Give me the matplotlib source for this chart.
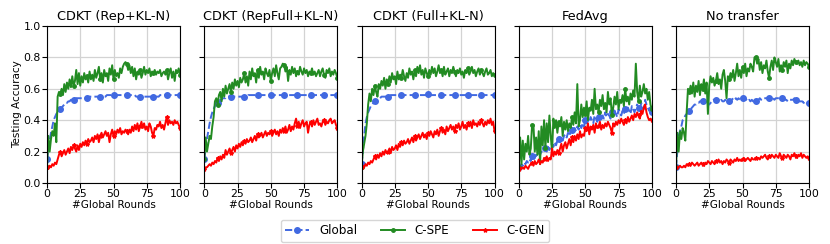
import matplotlib
matplotlib.use("Agg")
import matplotlib.pyplot as plt
import numpy as np

rounds = list(range(101))
titles = ["CDKT (Rep+KL-N)", "CDKT (RepFull+KL-N)", "CDKT (Full+KL-N)", "FedAvg", "No transfer"]
series_names = ["Global", "C-SPE", "C-GEN"]
xticks = [0, 25, 50, 75, 100]
yticks = [0.0, 0.2, 0.4, 0.6, 0.8, 1.0]

# ---- Panel 1: CDKT (Rep+KL-N)
g1 = [0.15,0.22,0.27,0.32,0.36,0.40,0.42,0.44,0.45,0.46,
      0.47,0.48,0.49,0.50,0.51,0.51,0.52,0.52,0.53,0.53,
      0.53,0.53,0.54,0.54,0.54,0.54,0.54,0.54,0.54,0.54,
      0.54,0.54,0.55,0.55,0.55,0.55,0.55,0.55,0.55,0.55,
      0.55,0.55,0.55,0.55,0.55,0.56,0.56,0.56,0.56,0.56,
      0.56,0.56,0.56,0.56,0.56,0.56,0.56,0.56,0.56,0.56,
      0.56,0.56,0.56,0.56,0.56,0.56,0.56,0.55,0.55,0.55,
      0.55,0.55,0.55,0.55,0.55,0.55,0.55,0.55,0.55,0.55,
      0.55,0.55,0.55,0.55,0.55,0.56,0.56,0.56,0.56,0.56,
      0.56,0.56,0.56,0.56,0.56,0.56,0.56,0.56,0.56,0.56,
      0.56]
s1 = [0.10,0.30,0.20,0.28,0.33,0.30,0.38,0.26,0.55,0.58,
      0.57,0.60,0.56,0.63,0.58,0.64,0.60,0.66,0.61,0.68,
      0.62,0.65,0.72,0.63,0.70,0.62,0.68,0.64,0.70,0.66,
      0.68,0.64,0.71,0.66,0.69,0.65,0.72,0.67,0.70,0.74,
      0.66,0.70,0.64,0.72,0.68,0.70,0.65,0.73,0.69,0.75,
      0.66,0.72,0.68,0.70,0.67,0.73,0.70,0.74,0.76,0.77,
      0.76,0.72,0.75,0.70,0.74,0.68,0.73,0.66,0.71,0.69,
      0.72,0.67,0.70,0.74,0.69,0.72,0.70,0.73,0.68,0.71,
      0.70,0.72,0.69,0.71,0.70,0.72,0.68,0.70,0.71,0.69,
      0.72,0.66,0.70,0.73,0.67,0.71,0.65,0.72,0.70,0.73,
      0.69]
r1 = [0.10,0.09,0.11,0.10,0.12,0.11,0.13,0.12,0.15,0.18,
      0.20,0.17,0.19,0.21,0.18,0.20,0.22,0.19,0.23,0.21,
      0.24,0.22,0.20,0.24,0.21,0.25,0.23,0.26,0.24,0.27,
      0.25,0.28,0.26,0.27,0.29,0.26,0.30,0.28,0.31,0.26,
      0.30,0.32,0.29,0.31,0.33,0.30,0.32,0.26,0.31,0.34,
      0.30,0.33,0.31,0.34,0.32,0.35,0.31,0.33,0.32,0.34,
      0.33,0.31,0.34,0.32,0.36,0.33,0.37,0.34,0.38,0.33,
      0.36,0.39,0.35,0.38,0.34,0.36,0.33,0.38,0.36,0.32,
      0.30,0.35,0.34,0.37,0.36,0.39,0.35,0.37,0.34,0.38,
      0.42,0.37,0.40,0.38,0.39,0.37,0.40,0.38,0.39,0.37,
      0.35]

# ---- Panel 2: CDKT (RepFull+KL-N)
g2 = [0.15,0.22,0.28,0.33,0.38,0.42,0.45,0.47,0.49,0.50,
      0.51,0.52,0.53,0.53,0.54,0.54,0.54,0.55,0.55,0.55,
      0.55,0.55,0.55,0.55,0.55,0.55,0.55,0.55,0.55,0.55,
      0.55,0.55,0.55,0.56,0.56,0.56,0.56,0.56,0.56,0.56,
      0.56,0.56,0.56,0.56,0.56,0.56,0.56,0.56,0.56,0.56,
      0.56,0.56,0.56,0.56,0.56,0.56,0.56,0.56,0.56,0.56,
      0.56,0.56,0.56,0.56,0.56,0.56,0.56,0.56,0.56,0.56,
      0.56,0.56,0.56,0.56,0.56,0.56,0.56,0.56,0.56,0.56,
      0.56,0.56,0.56,0.56,0.56,0.56,0.56,0.56,0.56,0.56,
      0.56,0.56,0.56,0.56,0.56,0.56,0.56,0.56,0.56,0.56,
      0.56]
s2 = [0.15,0.29,0.20,0.25,0.30,0.28,0.36,0.42,0.52,0.54,
      0.50,0.56,0.58,0.52,0.60,0.55,0.62,0.57,0.60,0.63,
      0.58,0.64,0.60,0.66,0.62,0.65,0.61,0.67,0.64,0.66,
      0.70,0.64,0.68,0.62,0.71,0.66,0.73,0.68,0.70,0.64,
      0.72,0.67,0.74,0.69,0.71,0.66,0.73,0.70,0.68,0.72,
      0.65,0.70,0.73,0.68,0.75,0.70,0.66,0.73,0.74,0.76,
      0.75,0.71,0.74,0.65,0.72,0.69,0.74,0.70,0.73,0.68,
      0.71,0.69,0.74,0.71,0.69,0.73,0.70,0.72,0.68,0.71,
      0.70,0.73,0.69,0.71,0.68,0.70,0.72,0.68,0.71,0.73,
      0.69,0.67,0.72,0.70,0.73,0.68,0.71,0.69,0.72,0.70,
      0.67]
r2 = [0.09,0.10,0.10,0.11,0.12,0.11,0.13,0.12,0.14,0.13,
      0.16,0.14,0.17,0.15,0.18,0.16,0.21,0.18,0.20,0.22,
      0.19,0.21,0.23,0.20,0.24,0.22,0.25,0.23,0.26,0.24,
      0.27,0.25,0.28,0.26,0.27,0.29,0.26,0.28,0.30,0.27,
      0.31,0.29,0.30,0.32,0.29,0.31,0.33,0.30,0.32,0.31,
      0.33,0.30,0.32,0.34,0.31,0.33,0.30,0.34,0.32,0.35,
      0.33,0.36,0.32,0.34,0.37,0.33,0.36,0.34,0.38,0.41,
      0.36,0.39,0.35,0.38,0.40,0.36,0.38,0.39,0.32,0.37,
      0.39,0.36,0.40,0.37,0.39,0.41,0.37,0.38,0.36,0.39,
      0.40,0.37,0.39,0.38,0.40,0.41,0.38,0.39,0.40,0.37,
      0.35]

# ---- Panel 3: CDKT (Full+KL-N)
g3 = [0.12,0.20,0.30,0.38,0.42,0.45,0.47,0.49,0.50,0.51,
      0.52,0.53,0.53,0.54,0.54,0.55,0.55,0.55,0.55,0.55,
      0.55,0.55,0.56,0.56,0.56,0.56,0.56,0.56,0.56,0.56,
      0.56,0.56,0.56,0.56,0.56,0.56,0.56,0.56,0.56,0.56,
      0.56,0.56,0.56,0.56,0.56,0.56,0.56,0.56,0.56,0.56,
      0.57,0.56,0.56,0.56,0.56,0.56,0.56,0.56,0.56,0.56,
      0.56,0.56,0.56,0.56,0.56,0.56,0.56,0.56,0.56,0.56,
      0.56,0.56,0.56,0.56,0.56,0.56,0.56,0.56,0.56,0.56,
      0.56,0.56,0.56,0.56,0.56,0.56,0.56,0.56,0.56,0.56,
      0.56,0.56,0.56,0.56,0.56,0.56,0.56,0.56,0.56,0.56,
      0.56]
s3 = [0.10,0.20,0.25,0.30,0.38,0.50,0.57,0.52,0.60,0.56,
      0.62,0.58,0.55,0.63,0.60,0.65,0.62,0.67,0.60,0.66,
      0.63,0.68,0.64,0.70,0.66,0.68,0.63,0.71,0.66,0.69,
      0.67,0.72,0.68,0.65,0.70,0.67,0.73,0.69,0.71,0.66,
      0.72,0.68,0.74,0.70,0.75,0.69,0.72,0.67,0.73,0.70,
      0.68,0.72,0.69,0.74,0.70,0.73,0.68,0.71,0.75,0.70,
      0.72,0.68,0.74,0.69,0.71,0.73,0.68,0.72,0.70,0.74,
      0.71,0.68,0.72,0.70,0.73,0.69,0.71,0.67,0.72,0.70,
      0.73,0.69,0.71,0.74,0.70,0.72,0.68,0.71,0.73,0.69,
      0.72,0.70,0.68,0.71,0.73,0.69,0.70,0.72,0.68,0.70,
      0.69]
r3 = [0.10,0.11,0.10,0.12,0.11,0.13,0.12,0.14,0.13,0.15,
      0.17,0.15,0.18,0.16,0.19,0.17,0.20,0.18,0.21,0.19,
      0.20,0.22,0.19,0.23,0.21,0.22,0.24,0.21,0.25,0.23,
      0.26,0.24,0.27,0.25,0.26,0.28,0.25,0.27,0.29,0.26,
      0.30,0.27,0.29,0.31,0.28,0.30,0.32,0.29,0.31,0.28,
      0.32,0.30,0.33,0.31,0.29,0.33,0.31,0.34,0.30,0.33,
      0.35,0.32,0.34,0.31,0.36,0.33,0.35,0.37,0.34,0.36,
      0.33,0.37,0.35,0.38,0.34,0.36,0.39,0.35,0.37,0.34,
      0.38,0.36,0.39,0.35,0.40,0.37,0.38,0.36,0.39,0.37,
      0.40,0.38,0.36,0.39,0.37,0.40,0.38,0.41,0.37,0.39,
      0.33]

# ---- Panel 4: FedAvg
g4 = [0.10,0.11,0.12,0.11,0.13,0.12,0.14,0.13,0.15,0.14,
      0.17,0.15,0.16,0.18,0.17,0.19,0.18,0.20,0.19,0.21,
      0.22,0.20,0.23,0.21,0.24,0.25,0.23,0.26,0.24,0.27,
      0.28,0.26,0.29,0.27,0.30,0.31,0.29,0.32,0.30,0.33,
      0.34,0.32,0.35,0.33,0.36,0.34,0.37,0.35,0.38,0.36,
      0.40,0.38,0.41,0.39,0.42,0.40,0.38,0.43,0.41,0.39,
      0.42,0.44,0.40,0.43,0.41,0.45,0.42,0.44,0.43,0.41,
      0.45,0.43,0.46,0.44,0.42,0.47,0.45,0.43,0.46,0.44,
      0.47,0.45,0.48,0.46,0.44,0.49,0.47,0.45,0.48,0.50,
      0.48,0.46,0.51,0.49,0.47,0.53,0.50,0.48,0.46,0.49,
      0.45]
s4 = [0.10,0.29,0.12,0.27,0.15,0.25,0.20,0.30,0.18,0.22,
      0.37,0.37,0.20,0.29,0.18,0.33,0.12,0.36,0.24,0.40,
      0.22,0.38,0.26,0.43,0.30,0.20,0.41,0.35,0.40,0.32,
      0.39,0.36,0.42,0.30,0.39,0.34,0.40,0.33,0.38,0.35,
      0.42,0.37,0.45,0.38,0.63,0.36,0.40,0.50,0.42,0.48,
      0.44,0.52,0.40,0.48,0.46,0.53,0.44,0.60,0.47,0.50,
      0.45,0.53,0.49,0.56,0.47,0.51,0.45,0.58,0.50,0.54,
      0.43,0.48,0.55,0.50,0.58,0.47,0.53,0.51,0.56,0.49,
      0.60,0.52,0.55,0.50,0.57,0.53,0.59,0.55,0.76,0.58,
      0.52,0.62,0.55,0.58,0.63,0.57,0.60,0.53,0.58,0.50,
      0.47]
r4 = [0.09,0.10,0.09,0.10,0.09,0.11,0.10,0.09,0.11,0.12,
      0.13,0.11,0.14,0.12,0.13,0.15,0.12,0.14,0.13,0.16,
      0.15,0.17,0.14,0.16,0.15,0.22,0.17,0.20,0.18,0.21,
      0.19,0.22,0.25,0.20,0.24,0.26,0.22,0.25,0.28,0.24,
      0.29,0.26,0.30,0.27,0.31,0.28,0.33,0.29,0.31,0.30,
      0.35,0.33,0.38,0.31,0.36,0.34,0.37,0.32,0.38,0.35,
      0.36,0.39,0.34,0.37,0.35,0.38,0.36,0.39,0.37,0.35,
      0.32,0.38,0.36,0.39,0.37,0.40,0.38,0.41,0.39,0.37,
      0.40,0.38,0.42,0.39,0.41,0.43,0.40,0.44,0.42,0.45,
      0.43,0.41,0.46,0.44,0.48,0.50,0.45,0.42,0.40,0.41,
      0.40]

# ---- Panel 5: No transfer
g5 = [0.10,0.20,0.30,0.33,0.36,0.40,0.41,0.43,0.44,0.45,
      0.46,0.47,0.48,0.49,0.50,0.50,0.51,0.51,0.52,0.52,
      0.52,0.53,0.53,0.52,0.51,0.50,0.51,0.52,0.53,0.53,
      0.53,0.52,0.53,0.52,0.53,0.52,0.52,0.53,0.52,0.53,
      0.52,0.53,0.53,0.54,0.53,0.54,0.53,0.54,0.53,0.54,
      0.54,0.53,0.54,0.53,0.52,0.53,0.52,0.53,0.52,0.52,
      0.52,0.53,0.53,0.54,0.53,0.54,0.54,0.54,0.54,0.54,
      0.54,0.54,0.53,0.54,0.53,0.54,0.54,0.54,0.54,0.54,
      0.54,0.53,0.53,0.53,0.52,0.53,0.53,0.53,0.53,0.54,
      0.53,0.53,0.52,0.52,0.52,0.52,0.51,0.52,0.51,0.51,
      0.51]
s5 = [0.10,0.32,0.20,0.33,0.28,0.35,0.32,0.27,0.45,0.60,
      0.58,0.62,0.57,0.64,0.55,0.62,0.58,0.65,0.56,0.63,
      0.60,0.66,0.57,0.64,0.44,0.62,0.68,0.64,0.67,0.62,
      0.65,0.70,0.63,0.66,0.60,0.69,0.72,0.65,0.54,0.68,
      0.66,0.70,0.67,0.72,0.65,0.70,0.76,0.68,0.72,0.67,
      0.74,0.70,0.76,0.68,0.73,0.71,0.76,0.74,0.71,0.80,
      0.80,0.76,0.79,0.72,0.77,0.70,0.75,0.73,0.78,0.71,
      0.67,0.74,0.78,0.72,0.80,0.77,0.74,0.79,0.71,0.75,
      0.72,0.77,0.74,0.78,0.70,0.76,0.73,0.78,0.75,0.79,
      0.77,0.76,0.78,0.75,0.77,0.74,0.78,0.75,0.77,0.76,
      0.74]
r5 = [0.10,0.09,0.10,0.11,0.10,0.10,0.11,0.10,0.12,0.11,
      0.12,0.11,0.13,0.12,0.11,0.12,0.13,0.11,0.12,0.13,
      0.12,0.11,0.13,0.12,0.14,0.13,0.12,0.14,0.13,0.12,
      0.14,0.13,0.15,0.13,0.14,0.12,0.14,0.13,0.15,0.14,
      0.13,0.15,0.14,0.13,0.15,0.14,0.16,0.14,0.15,0.14,
      0.15,0.16,0.14,0.15,0.16,0.15,0.14,0.16,0.15,0.15,
      0.16,0.15,0.16,0.15,0.17,0.16,0.17,0.18,0.16,0.15,
      0.17,0.16,0.18,0.17,0.16,0.18,0.17,0.16,0.19,0.17,
      0.16,0.18,0.17,0.16,0.18,0.17,0.15,0.18,0.17,0.19,
      0.17,0.16,0.18,0.17,0.19,0.16,0.18,0.17,0.16,0.17,
      0.16]

panels = [(g1, s1, r1), (g2, s2, r2), (g3, s3, r3), (g4, s4, r4), (g5, s5, r5)]

plt.rcParams['font.family'] = ['DejaVu Sans']
fig = plt.figure(figsize=(8.3, 2.44), dpi=100)

W, H = 830.0, 244.0
ax_w = 133.0
lefts = [47.0, 204.3, 361.5, 518.8, 676.0]
top, bottom = 26.0, 183.0

handles = None
for i, (g, s, r) in enumerate(panels):
    ax = fig.add_axes([lefts[i] / W, 1 - bottom / H, ax_w / W, (bottom - top) / H])
    ax.grid(True, color='#d3d3d3', linewidth=0.9)
    ax.set_axisbelow(True)
    l1, = ax.plot(rounds, g, color='royalblue', linestyle='--', linewidth=1.4,
                  marker='o', markersize=4, markevery=10, label=series_names[0])
    l2, = ax.plot(rounds, s, color='forestgreen', linestyle='-', linewidth=1.4,
                  marker='o', markersize=2.5, markevery=10, label=series_names[1])
    l3, = ax.plot(rounds, r, color='red', linestyle='-', linewidth=1.4,
                  marker='*', markersize=3, markevery=10, label=series_names[2])
    if handles is None:
        handles = [l1, l2, l3]
    ax.set_xlim(0, 100)
    ax.set_ylim(0, 1.0)
    ax.set_xticks(xticks)
    ax.set_yticks(yticks)
    ax.tick_params(labelsize=7.8, length=3.5, width=0.8, pad=1)
    if i == 0:
        ax.set_yticklabels([f"{v:.1f}" for v in yticks])
        ax.set_ylabel("Testing Accuracy", fontsize=7.5, labelpad=1)
    else:
        ax.set_yticklabels([])
    ax.set_xlabel("#Global Rounds", fontsize=7.5, labelpad=0.3)
    ax.set_title(titles[i], fontsize=9.3, pad=4)
    for sp in ax.spines.values():
        sp.set_linewidth(0.8)

fig.legend(handles, series_names, loc='center', bbox_to_anchor=(0.5, 1 - 231 / H),
           ncol=3, fontsize=8.6, frameon=True, fancybox=True, borderpad=0.4)

fig.savefig("out.png", dpi=100)
